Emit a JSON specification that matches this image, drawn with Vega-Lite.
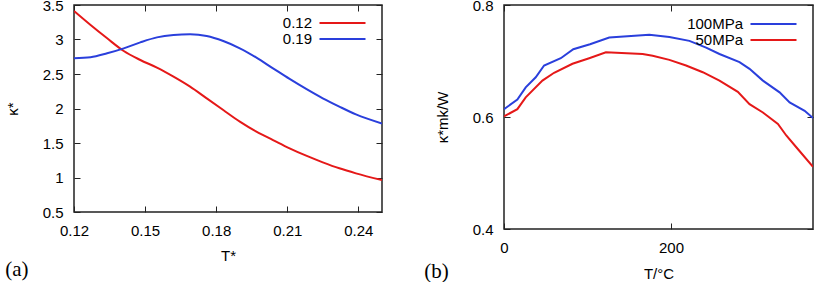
{
  "$schema": "https://vega.github.io/schema/vega-lite/v6.json",
  "background": "white",
  "padding": {"left": 4, "top": -3, "right": 0, "bottom": 0},
  "bounds": "flush",
  "spacing": 122,
  "resolve": {"scale": {"color": "independent"}, "legend": {"color": "independent"}},
  "config": {
    "font": "Liberation Sans",
    "view": {"stroke": "#222222", "strokeWidth": 1.5},
    "axis": {
      "grid": false, "domain": false, "tickColor": "#222222", "tickSize": 6, "tickWidth": 1, "offset": -6, "zindex": 1,
      "labelPadding": 11, "labelFontSize": 15, "titleFontSize": 15, "titleFontWeight": "normal",
      "labelColor": "black", "titleColor": "black", "labelFlush": false, "labelOverlap": false
    },
    "legend": {
      "orient": "none", "title": null, "symbolType": "M-4.6,0H4.6", "symbolSize": 100, "symbolStrokeWidth": 2,
      "labelAlign": "right", "labelOffset": -38, "labelFontSize": 15, "labelColor": "black", "rowPadding": 0, "padding": 0
    }
  },
  "hconcat": [
    {
      "width": 308, "height": 207,
      "title": {"text": "(a)", "orient": "bottom", "anchor": "start", "frame": "bounds", "font": "Liberation Serif", "fontSize": 21, "fontWeight": "normal", "color": "black", "offset": -4},
      "data": {"values": [
        {"T": 0.12, "k": 3.413, "s": "0.12"}, {"T": 0.127, "k": 3.21, "s": "0.12"}, {"T": 0.134, "k": 3.017, "s": "0.12"},
        {"T": 0.141, "k": 2.833, "s": "0.12"}, {"T": 0.148, "k": 2.703, "s": "0.12"}, {"T": 0.155, "k": 2.592, "s": "0.12"},
        {"T": 0.162, "k": 2.461, "s": "0.12"}, {"T": 0.169, "k": 2.316, "s": "0.12"}, {"T": 0.176, "k": 2.147, "s": "0.12"},
        {"T": 0.183, "k": 1.978, "s": "0.12"}, {"T": 0.19, "k": 1.809, "s": "0.12"}, {"T": 0.197, "k": 1.664, "s": "0.12"},
        {"T": 0.204, "k": 1.543, "s": "0.12"}, {"T": 0.211, "k": 1.423, "s": "0.12"}, {"T": 0.218, "k": 1.316, "s": "0.12"},
        {"T": 0.225, "k": 1.22, "s": "0.12"}, {"T": 0.232, "k": 1.133, "s": "0.12"}, {"T": 0.239, "k": 1.06, "s": "0.12"},
        {"T": 0.25, "k": 0.962, "s": "0.12"},
        {"T": 0.12, "k": 2.727, "s": "0.19"}, {"T": 0.127, "k": 2.742, "s": "0.19"}, {"T": 0.134, "k": 2.8, "s": "0.19"},
        {"T": 0.141, "k": 2.872, "s": "0.19"}, {"T": 0.148, "k": 2.959, "s": "0.19"}, {"T": 0.155, "k": 3.031, "s": "0.19"},
        {"T": 0.162, "k": 3.065, "s": "0.19"}, {"T": 0.169, "k": 3.075, "s": "0.19"}, {"T": 0.176, "k": 3.051, "s": "0.19"},
        {"T": 0.183, "k": 2.978, "s": "0.19"}, {"T": 0.19, "k": 2.872, "s": "0.19"}, {"T": 0.197, "k": 2.737, "s": "0.19"},
        {"T": 0.204, "k": 2.582, "s": "0.19"}, {"T": 0.211, "k": 2.428, "s": "0.19"}, {"T": 0.218, "k": 2.283, "s": "0.19"},
        {"T": 0.225, "k": 2.147, "s": "0.19"}, {"T": 0.232, "k": 2.027, "s": "0.19"}, {"T": 0.239, "k": 1.915, "s": "0.19"},
        {"T": 0.25, "k": 1.783, "s": "0.19"}
      ]},
      "layer": [
        {
          "mark": {"type": "line", "interpolate": "monotone", "strokeWidth": 2, "clip": true},
          "encoding": {
            "x": {"field": "T", "type": "quantitative", "scale": {"domain": [0.12, 0.25], "nice": false, "zero": false},
                  "axis": {"values": [0.12, 0.15, 0.18, 0.21, 0.24], "format": ".2f", "title": "T*", "titlePadding": 10}},
            "y": {"field": "k", "type": "quantitative", "scale": {"domain": [0.5, 3.5], "nice": false, "zero": false},
                  "axis": {"values": [0.5, 1, 1.5, 2, 2.5, 3, 3.5], "format": "~g", "title": "κ*", "titlePadding": 22}},
            "color": {"field": "s", "type": "nominal", "scale": {"domain": ["0.12", "0.19"], "range": ["#e51818", "#2a3fdc"]},
                      "legend": {"legendX": 261, "legendY": 10.5}}
          }
        },
        {
          "mark": {"type": "line", "opacity": 0},
          "encoding": {
            "x": {"field": "T", "type": "quantitative", "scale": {"domain": [0.12, 0.25], "nice": false, "zero": false},
                  "axis": {"orient": "top", "values": [0.12, 0.15, 0.18, 0.21, 0.24], "labels": false, "title": null, "minExtent": 0, "maxExtent": 0}},
            "y": {"field": "k", "type": "quantitative", "scale": {"domain": [0.5, 3.5], "nice": false, "zero": false},
                  "axis": {"orient": "right", "values": [0.5, 1, 1.5, 2, 2.5, 3, 3.5], "labels": false, "title": null, "minExtent": 0, "maxExtent": 0}}
          }
        }
      ],
      "resolve": {"axis": {"x": "independent", "y": "independent"}}
    },
    {
      "width": 309, "height": 224,
      "title": {"text": "(b)", "orient": "bottom", "anchor": "start", "frame": "bounds", "font": "Liberation Serif", "fontSize": 21, "fontWeight": "normal", "color": "black", "offset": -20, "dx": -11},
      "data": {"values": [
        {"T": 0, "k": 0.614, "s": "100MPa"}, {"T": 16, "k": 0.631, "s": "100MPa"}, {"T": 26, "k": 0.653, "s": "100MPa"},
        {"T": 38, "k": 0.671, "s": "100MPa"}, {"T": 48, "k": 0.692, "s": "100MPa"}, {"T": 68, "k": 0.705, "s": "100MPa"},
        {"T": 83, "k": 0.721, "s": "100MPa"}, {"T": 103, "k": 0.73, "s": "100MPa"}, {"T": 126, "k": 0.742, "s": "100MPa"},
        {"T": 174, "k": 0.747, "s": "100MPa"}, {"T": 198, "k": 0.743, "s": "100MPa"}, {"T": 222, "k": 0.736, "s": "100MPa"},
        {"T": 242, "k": 0.724, "s": "100MPa"}, {"T": 258, "k": 0.7125, "s": "100MPa"}, {"T": 282, "k": 0.698, "s": "100MPa"},
        {"T": 294, "k": 0.686, "s": "100MPa"}, {"T": 310, "k": 0.665, "s": "100MPa"}, {"T": 330, "k": 0.644, "s": "100MPa"},
        {"T": 342, "k": 0.626, "s": "100MPa"}, {"T": 360, "k": 0.611, "s": "100MPa"}, {"T": 370, "k": 0.598, "s": "100MPa"},
        {"T": 0, "k": 0.601, "s": "50MPa"}, {"T": 16, "k": 0.614, "s": "50MPa"}, {"T": 26, "k": 0.635, "s": "50MPa"},
        {"T": 46, "k": 0.665, "s": "50MPa"}, {"T": 60, "k": 0.679, "s": "50MPa"}, {"T": 82, "k": 0.695, "s": "50MPa"},
        {"T": 102, "k": 0.705, "s": "50MPa"}, {"T": 122, "k": 0.7155, "s": "50MPa"}, {"T": 166, "k": 0.7125, "s": "50MPa"},
        {"T": 178, "k": 0.7095, "s": "50MPa"}, {"T": 198, "k": 0.702, "s": "50MPa"}, {"T": 218, "k": 0.692, "s": "50MPa"},
        {"T": 238, "k": 0.68, "s": "50MPa"}, {"T": 258, "k": 0.665, "s": "50MPa"}, {"T": 280, "k": 0.645, "s": "50MPa"},
        {"T": 294, "k": 0.623, "s": "50MPa"}, {"T": 310, "k": 0.608, "s": "50MPa"}, {"T": 328, "k": 0.5875, "s": "50MPa"},
        {"T": 338, "k": 0.567, "s": "50MPa"}, {"T": 350, "k": 0.546, "s": "50MPa"}, {"T": 370, "k": 0.511, "s": "50MPa"}
      ]},
      "layer": [
        {
          "mark": {"type": "line", "strokeWidth": 2, "clip": true},
          "encoding": {
            "x": {"field": "T", "type": "quantitative", "scale": {"domain": [0, 370], "nice": false, "zero": false},
                  "axis": {"values": [0, 200], "format": "d", "title": "T/°C", "titlePadding": 11}},
            "y": {"field": "k", "type": "quantitative", "scale": {"domain": [0.4, 0.8], "nice": false, "zero": false},
                  "axis": {"values": [0.4, 0.6, 0.8], "format": ".1f", "title": "κ*mk/W", "titlePadding": 22}},
            "color": {"field": "s", "type": "nominal", "scale": {"domain": ["100MPa", "50MPa"], "range": ["#2a3fdc", "#e51818"]},
                      "legend": {"legendX": 262, "legendY": 11.5}}
          }
        },
        {
          "mark": {"type": "line", "opacity": 0},
          "encoding": {
            "x": {"field": "T", "type": "quantitative", "scale": {"domain": [0, 370], "nice": false, "zero": false},
                  "axis": {"orient": "top", "values": [0, 200], "labels": false, "title": null, "minExtent": 0, "maxExtent": 0}},
            "y": {"field": "k", "type": "quantitative", "scale": {"domain": [0.4, 0.8], "nice": false, "zero": false},
                  "axis": {"orient": "right", "values": [0.4, 0.6, 0.8], "labels": false, "title": null, "minExtent": 0, "maxExtent": 0}}
          }
        }
      ],
      "resolve": {"axis": {"x": "independent", "y": "independent"}}
    }
  ]
}
